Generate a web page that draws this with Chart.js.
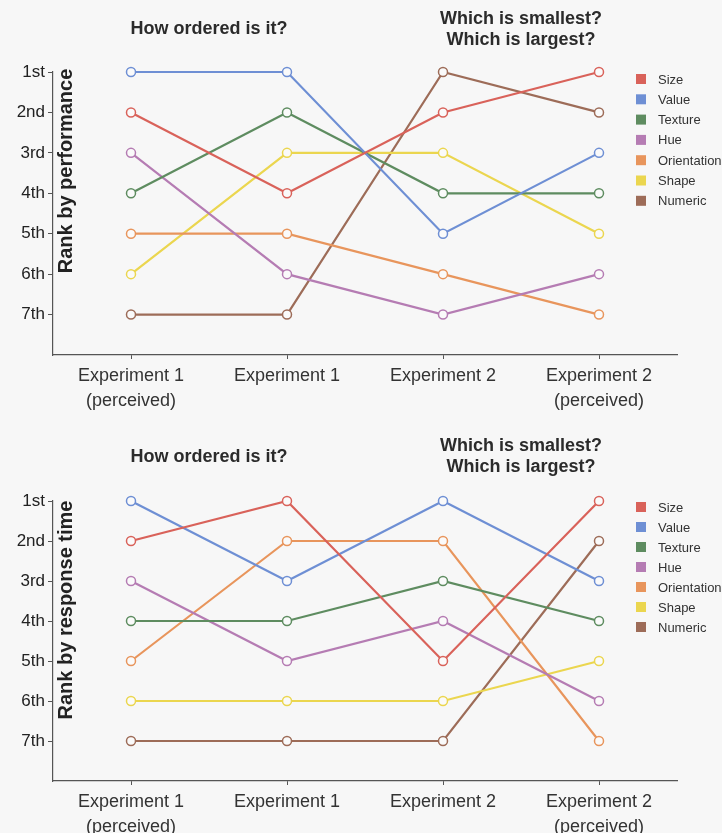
<!DOCTYPE html>
<html>
<head>
<meta charset="utf-8">
<script src="https://cdn.jsdelivr.net/npm/chart.js@4/dist/chart.umd.min.js"></script>
<style>
  html, body { margin: 0; padding: 0; background: #f7f7f7; }
  .panel { position: relative; width: 722px; }
  canvas { display: block; }
</style>
</head>
<body>
<div class="panel"><canvas id="perf" width="722" height="416"></canvas></div>
<div class="panel"><canvas id="rt" width="722" height="417"></canvas></div>
<script>
// Conditions compared across experiments
const conditions = [
  ['Experiment 1', '(perceived)'],
  'Experiment 1',
  'Experiment 2',
  ['Experiment 2', '(perceived)']
];

// Rank labels for the vertical axis (1 = best)
const rankLabels = ['1st', '2nd', '3rd', '4th', '5th', '6th', '7th'];

// Encoding names and their colours
const encodings = ['Size', 'Value', 'Texture', 'Hue', 'Orientation', 'Shape', 'Numeric'];
const encodingColors = ['#d9625a', '#6e8fd4', '#5e8c60', '#b57cb3', '#e8955c', '#ebd64f', '#9d6c58'];

// Rank by performance, one array per encoding
const perfSize        = [2, 4, 2, 1];
const perfValue       = [1, 1, 5, 3];
const perfTexture     = [4, 2, 4, 4];
const perfHue         = [3, 6, 7, 6];
const perfOrientation = [5, 5, 6, 7];
const perfShape       = [6, 3, 3, 5];
const perfNumeric     = [7, 7, 1, 2];

// Rank by response time, one array per encoding
const rtSize        = [2, 1, 5, 1];
const rtValue       = [1, 3, 1, 3];
const rtTexture     = [4, 4, 3, 4];
const rtHue         = [3, 5, 4, 6];
const rtOrientation = [5, 2, 2, 7];
const rtShape       = [6, 6, 6, 5];
const rtNumeric     = [7, 7, 7, 2];

// Question headings placed over pairs of conditions
const questionLeft = ['How ordered is it?'];
const questionRight = ['Which is smallest?', 'Which is largest?'];

const FONT = '"Liberation Sans", Arial, Helvetica, sans-serif';
const AXIS_COLOR = '#555';
const TEXT_COLOR = '#2b2b2b';

function makeDatasets(series) {
  return series.map((data, i) => ({
    label: encodings[i],
    data: data,
    borderColor: encodingColors[i],
    backgroundColor: encodingColors[i],
    borderWidth: 2.2,
    pointRadius: 4.5,
    pointHoverRadius: 4.5,
    pointBorderWidth: 1.5,
    pointBorderColor: encodingColors[i],
    pointBackgroundColor: '#fafafa',
    tension: 0,
    clip: false
  }));
}

// Draws the question headings, the axis title inside the plot and the legend
const decorations = {
  id: 'decorations',
  afterDraw(chart, args, opts) {
    const ctx = chart.ctx;
    const x = chart.scales.x;
    ctx.save();
    ctx.fillStyle = TEXT_COLOR;
    ctx.textAlign = 'center';
    ctx.textBaseline = 'middle';
    ctx.font = 'bold 18px ' + FONT;
    const lx = (x.getPixelForValue(0) + x.getPixelForValue(1)) / 2;
    const rx = (x.getPixelForValue(2) + x.getPixelForValue(3)) / 2;
    questionLeft.forEach((t, i) => ctx.fillText(t, lx, opts.leftY + i * 21));
    questionRight.forEach((t, i) => ctx.fillText(t, rx, opts.rightY + i * 21));

    // vertical axis title
    ctx.save();
    ctx.translate(66, opts.axisTitleY);
    ctx.rotate(-Math.PI / 2);
    ctx.font = 'bold 20px ' + FONT;
    ctx.fillStyle = '#222';
    ctx.fillText(opts.axisTitle, 0, 0);
    ctx.restore();

    // legend
    ctx.font = '13px ' + FONT;
    ctx.textAlign = 'left';
    encodings.forEach((name, i) => {
      const cy = opts.legendY + i * opts.legendStep;
      ctx.fillStyle = encodingColors[i];
      ctx.fillRect(636, cy - 5, 10, 10);
      ctx.fillStyle = '#333';
      ctx.fillText(name, 658, cy + 1);
    });
    ctx.restore();
  }
};

function makeChart(id, series, cfg) {
  return new Chart(document.getElementById(id), {
    type: 'line',
    data: { labels: conditions, datasets: makeDatasets(series) },
    plugins: [decorations],
    options: {
      responsive: false,
      animation: false,
      devicePixelRatio: 1,
      layout: { padding: { top: cfg.top, right: 45, bottom: 0, left: 0 } },
      plugins: {
        legend: { display: false },
        tooltip: { enabled: false },
        decorations: cfg.deco
      },
      scales: {
        x: {
          type: 'category',
          offset: true,
          afterFit(s) { s.height = cfg.bottom; },
          grid: { display: true, drawOnChartArea: false, tickLength: 4, color: AXIS_COLOR, offset: false },
          border: { display: true, color: AXIS_COLOR, width: 1.2 },
          ticks: {
            color: '#333',
            padding: 4,
            maxRotation: 0,
            autoSkip: false,
            font: { family: FONT, size: 18, lineHeight: 1.42 }
          }
        },
        y: {
          reverse: true,
          min: 1,
          max: 8,
          afterFit(s) { s.width = 53; },
          afterBuildTicks(s) { s.ticks = s.ticks.filter(t => t.value <= 7); },
          grid: { display: true, drawOnChartArea: false, tickLength: 5, color: AXIS_COLOR },
          border: { display: true, color: AXIS_COLOR, width: 1.2 },
          ticks: {
            stepSize: 1,
            color: '#222',
            padding: 3,
            font: { family: FONT, size: 17 },
            callback: v => rankLabels[v - 1] || ''
          }
        }
      }
    }
  });
}

makeChart('perf',
  [perfSize, perfValue, perfTexture, perfHue, perfOrientation, perfShape, perfNumeric],
  { top: 72, bottom: 61,
    deco: { leftY: 29, rightY: 19, axisTitle: 'Rank by performance', axisTitleY: 171, legendY: 79, legendStep: 20.3 } });

makeChart('rt',
  [rtSize, rtValue, rtTexture, rtHue, rtOrientation, rtShape, rtNumeric],
  { top: 85, bottom: 52,
    deco: { leftY: 41, rightY: 30, axisTitle: 'Rank by response time', axisTitleY: 194, legendY: 91, legendStep: 20 } });
</script>
</body>
</html>
